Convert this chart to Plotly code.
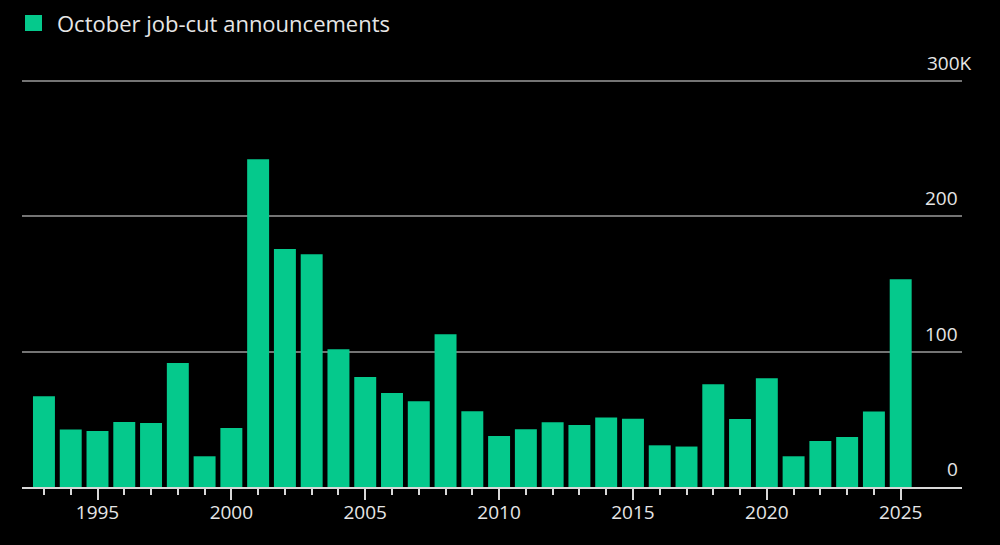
import plotly.graph_objects as go

years = list(range(1993, 2026))
job_cuts_k = [67.0, 42.4, 41.4, 48.0, 47.3, 91.6, 22.7, 43.6, 242.2, 175.9, 172.0,
              101.8, 81.3, 69.5, 63.3, 112.9, 56.0, 37.7, 42.6, 47.8, 45.8, 51.3,
              50.5, 30.8, 29.9, 75.9, 50.3, 80.3, 22.7, 34.0, 37.0, 55.7, 153.5]
series_name = "October job-cut announcements"
x_tickvals = [1995, 2000, 2005, 2010, 2015, 2020, 2025]
y_tickvals = [0, 100, 200, 300]
y_ticktext = ["0", "100", "200", "300K"]

GREEN = "#05c98c"
FONT = "Open Sans"
TXT = "#e6e6e6"

W, H = 1000, 545
ML, MR, MT, MB = 22, 38, 79, 58
PW, PH = W - ML - MR, H - MT - MB


def px_x(px):
    return (px - ML) / PW


def px_y(py):
    return (H - MB - py) / PH


fig = go.Figure()
fig.add_trace(go.Bar(x=years, y=job_cuts_k, name=series_name,
                     marker=dict(color=GREEN, line=dict(width=0)),
                     width=0.82, showlegend=False))

annotations = []
for v, t in zip(y_tickvals, y_ticktext):
    annotations.append(dict(x=0.9979, xref="paper", y=v, yref="y", text=t,
                            showarrow=False, xanchor="right", yanchor="middle",
                            yshift=18, xshift=(14 if t.endswith("K") else 0),
                            font=dict(family=FONT, size=19, color=TXT)))

# legend-like key (swatch + label)
annotations.append(dict(x=px_x(55), xref="paper", y=px_y(23), yref="paper",
                        text=series_name, showarrow=False, xanchor="left",
                        yanchor="middle", font=dict(family=FONT, size=22, color=TXT)))
shapes = [dict(type="rect", xref="paper", yref="paper",
               x0=px_x(25), x1=px_x(42), y0=px_y(31), y1=px_y(15),
               fillcolor=GREEN, line=dict(width=0))]

fig.update_layout(
    width=W, height=H,
    paper_bgcolor="black", plot_bgcolor="black",
    margin=dict(l=ML, r=MR, t=MT, b=MB),
    font=dict(family=FONT, color=TXT, size=19),
    showlegend=False,
    bargap=0.18,
    xaxis=dict(range=[1992.18, 2027.29], tickvals=x_tickvals,
               ticks="outside", ticklen=11, tickwidth=2, tickcolor="#d8d8d8",
               ticklabelstandoff=-4,
               minor=dict(tickvals=years, ticks="outside", ticklen=6,
                          tickwidth=2, tickcolor="#d8d8d8", showgrid=False),
               showline=True, linecolor="#d8d8d8", linewidth=2,
               showgrid=False, zeroline=False,
               tickfont=dict(family=FONT, size=19, color=TXT)),
    yaxis=dict(range=[0, 301.5], tickvals=y_tickvals, showticklabels=False,
               showgrid=True, gridcolor="#747474", gridwidth=1.5,
               zeroline=False, showline=False, fixedrange=True),
    annotations=annotations,
    shapes=shapes,
)

fig.write_html("out.html", config=dict(displayModeBar=False),
               post_script="document.body.style.margin='0';document.body.style.overflow='hidden';")
